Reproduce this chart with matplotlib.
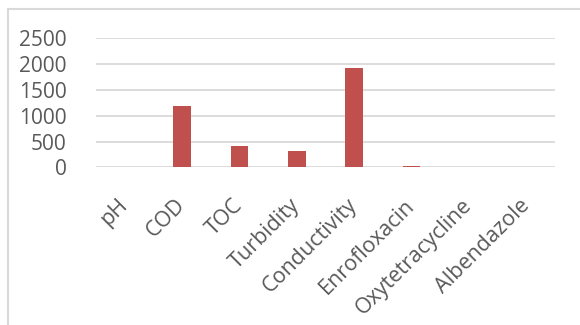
import matplotlib.pyplot as plt
from matplotlib.patches import Rectangle

# data
categories = ['pH', 'COD', 'TOC', 'Turbidity', 'Conductivity', 'Enrofloxacin',
              'Oxytetracycline', 'Albendazole']
values = [7, 1180, 420, 320, 1915, 20, 2, 1]
yticks = [0, 500, 1000, 1500, 2000, 2500]

plt.rcParams['font.family'] = ['Open Sans', 'DejaVu Sans']

fig = plt.figure(figsize=(5.8, 3.25), dpi=100)
ax = fig.add_axes([96 / 580, 1 - 167.5 / 325, 459 / 580, 129.5 / 325])

x = range(len(categories))
ax.bar(x, values, width=0.31, color='#C0504D', zorder=3)
ax.set_xlim(-0.5, len(categories) - 0.5)
ax.set_ylim(0, 2500)
ax.set_yticks(yticks)
ax.set_yticklabels([str(v) for v in yticks])
ax.grid(axis='y', color='#D9D9D9', linewidth=1.3, zorder=0)
ax.set_xticks(list(x))
ax.set_xticklabels(categories, rotation=45, ha='right', va='center',
                   rotation_mode='anchor')
ax.tick_params(axis='both', length=0, colors='#595959')
ax.tick_params(axis='y', pad=21, labelsize=15)
ax.tick_params(axis='x', pad=25, labelsize=15.5)
for s in ax.spines.values():
    s.set_visible(False)

# chart border like the excel frame
fig.patches.append(Rectangle((8 / 580, -0.1), 1.2, 1 - 9 / 325 + 0.1,
                             transform=fig.transFigure, fill=False,
                             edgecolor='#D9D9D9', linewidth=1.5))

fig.savefig('out.png', dpi=100)
